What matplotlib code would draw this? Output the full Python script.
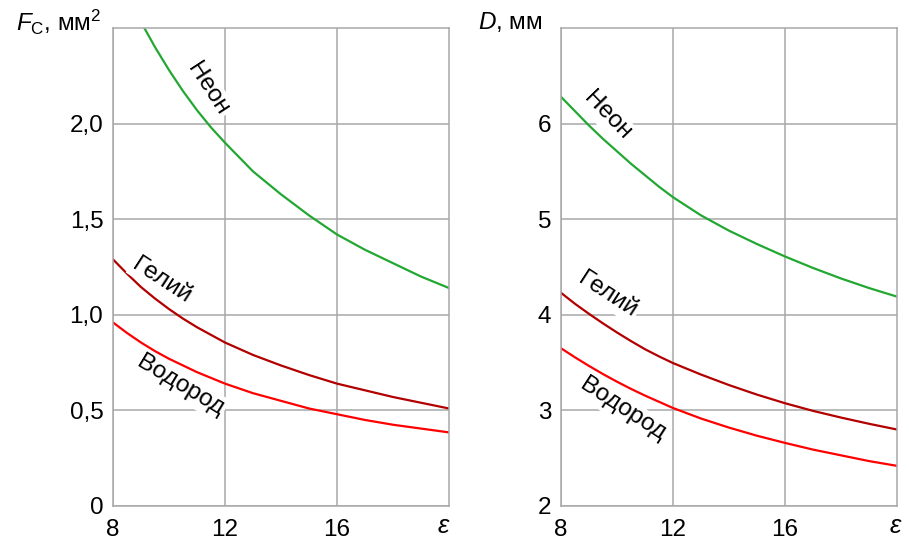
import matplotlib
matplotlib.use("Agg")
import matplotlib.pyplot as plt
import numpy as np

plt.rcParams['font.family'] = ['Liberation Sans', 'DejaVu Sans']
plt.rcParams['mathtext.fontset'] = 'custom'
plt.rcParams['mathtext.rm'] = 'Liberation Sans'
plt.rcParams['mathtext.it'] = 'Liberation Sans:italic'

# Left panel: F_C, mm^2 vs epsilon
eps_neon_l = [9.12, 9.5, 10, 10.5, 11, 11.5, 12, 13, 14, 15, 16, 17, 18, 19, 20]
neon_F = [2.50, 2.40, 2.28, 2.17, 2.07, 1.98, 1.90, 1.75, 1.63, 1.52, 1.42, 1.34, 1.27, 1.20, 1.14]
eps = [8, 8.5, 9, 9.5, 10, 10.5, 11, 11.5, 12, 13, 14, 15, 16, 17, 18, 19, 20]
he_F = [1.29, 1.215, 1.145, 1.085, 1.03, 0.98, 0.935, 0.895, 0.855, 0.79, 0.735, 0.685, 0.64, 0.605, 0.57, 0.54, 0.51]
h2_F = [0.96, 0.905, 0.855, 0.81, 0.77, 0.735, 0.70, 0.67, 0.64, 0.59, 0.55, 0.51, 0.48, 0.45, 0.425, 0.405, 0.385]

# Right panel: D, mm vs epsilon
neon_D = [6.28, 6.13, 5.98, 5.84, 5.71, 5.58, 5.46, 5.34, 5.23, 5.04, 4.88, 4.74, 4.61, 4.49, 4.38, 4.28, 4.19]
he_D = [4.23, 4.115, 4.01, 3.91, 3.815, 3.725, 3.64, 3.565, 3.495, 3.375, 3.265, 3.165, 3.075, 2.995, 2.925, 2.86, 2.80]
h2_D = [3.65, 3.555, 3.465, 3.38, 3.30, 3.225, 3.155, 3.09, 3.025, 2.915, 2.82, 2.735, 2.66, 2.59, 2.53, 2.47, 2.42]

xticks = [8, 12, 16]
yticks_l = [0, 0.5, 1.0, 1.5, 2.0]
yticklabels_l = ['0', '0,5', '1,0', '1,5', '2,0']
yticks_r = [2, 3, 4, 5, 6]
yticklabels_r = ['2', '3', '4', '5', '6']

c_neon = '#22a832'
c_he = '#b20000'
c_h2 = '#ff0000'
gcol = '#a8a8a8'
fs = 17.5

fig = plt.figure(figsize=(9.09, 5.39), dpi=100)
axL = fig.add_axes([113/909, 1-506/539, 336/909, 478/539])
axR = fig.add_axes([561/909, 1-506/539, 336/909, 478/539])


def style(ax, ylim, yt, ytl, ex):
    ax.set_xlim(8, 20)
    ax.set_ylim(*ylim)
    ax.set_xticks(xticks)
    ax.set_xticklabels([str(t) for t in xticks], fontsize=fs)
    ax.set_yticks(yt)
    ax.set_yticklabels(ytl, fontsize=fs)
    ax.tick_params(length=0)
    ax.tick_params(axis='x', pad=9)
    ax.tick_params(axis='y', pad=7)
    ax.grid(True, color=gcol, lw=1.1)
    ax.set_axisbelow(True)
    for s in ax.spines.values():
        s.set_color(gcol)
        s.set_linewidth(1.1)
    ax.text(ex, -20/478, 'ε', transform=ax.transAxes, fontsize=fs + 1,
            style='italic', ha='right', va='center')


style(axL, (0, 2.5), yticks_l, yticklabels_l, 1.0)
style(axR, (2, 7), yticks_r, yticklabels_r, 1.012)

lw = 1.6
axL.plot(eps_neon_l, neon_F, color=c_neon, lw=lw)
axL.plot(eps, he_F, color=c_he, lw=lw)
axL.plot(eps, h2_F, color=c_h2, lw=lw)
axR.plot(eps, neon_D, color=c_neon, lw=lw)
axR.plot(eps, he_D, color=c_he, lw=lw)
axR.plot(eps, h2_D, color=c_h2, lw=lw)

bb = dict(facecolor='white', edgecolor='none', pad=1.5)
axL.text(11.4, 2.18, 'Неон', rotation=-57, fontsize=fs, ha='center', va='center', bbox=bb)
axL.text(9.75, 1.18, 'Гелий', rotation=-33, fontsize=fs, ha='center', va='center', bbox=bb)
axL.text(10.4, 0.63, 'Водород', rotation=-31, fontsize=fs, ha='center', va='center', bbox=bb)
axR.text(9.64, 6.08, 'Неон', rotation=-46, fontsize=fs, ha='center', va='center', bbox=bb)
axR.text(9.68, 4.21, 'Гелий', rotation=-33, fontsize=fs, ha='center', va='center', bbox=bb)
axR.text(10.2, 3.01, 'Водород', rotation=-33, fontsize=fs, ha='center', va='center', bbox=bb)

fig.text(16/909, 1-22/539, r'$F_{\mathrm{C}}$, мм$^2$', fontsize=fs, ha='left', va='center')
fig.text(478/909, 1-22/539, r'$D$, мм', fontsize=fs, ha='left', va='center')

fig.savefig('out.png', dpi=100)
